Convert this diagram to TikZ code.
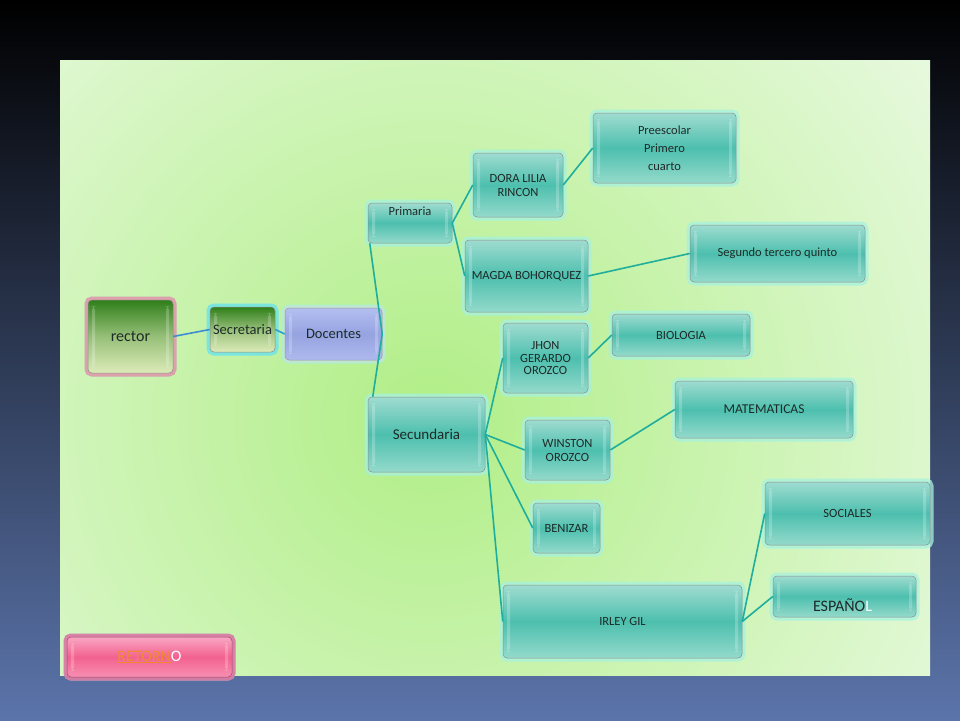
\documentclass[tikz,border=0pt]{standalone}
\usepackage{fontspec}
\setmainfont{Carlito}
\usepackage{tikz}
\definecolor{tealtop}{HTML}{9FDCD0}
\definecolor{tealmid}{HTML}{4DBFAE}
\definecolor{tealbot}{HTML}{94DACB}
\definecolor{tealglow}{HTML}{A6F2DF}
\definecolor{linkcol}{HTML}{1FAE9C}
\definecolor{slidein}{HTML}{B0EE86}
\definecolor{slideout}{HTML}{F0FBEC}
\definecolor{deepblue}{HTML}{5B74AA}
\definecolor{navy}{HTML}{0F1628}
\definecolor{labelcol}{HTML}{1E2A28}
\definecolor{greentop}{HTML}{2F7F1A}
\definecolor{greenbot}{HTML}{DCEBB8}
\definecolor{pinkglow}{HTML}{E88DA0}
\definecolor{cyanglow}{HTML}{6FE3E0}
\definecolor{lavtop}{HTML}{B4BFF0}
\definecolor{lavmid}{HTML}{95A3E0}
\definecolor{lavbot}{HTML}{AEB9EE}
\definecolor{rettop}{HTML}{F9A6C4}
\definecolor{retmid}{HTML}{F2628F}
\definecolor{retbot}{HTML}{F78FB2}
\definecolor{retglow}{HTML}{E2679A}
\definecolor{linkorange}{HTML}{F08A30}
\tikzset{
  sz/.style 2 args={minimum width=#1pt, minimum height=#2pt},
  bevel/.style={path picture={
    \fill[white,opacity=.22] ([shift={(4pt,-6pt)}]path picture bounding box.north west) rectangle ([shift={(7pt,6pt)}]path picture bounding box.south west);
    \fill[white,opacity=.22] ([shift={(-7pt,-6pt)}]path picture bounding box.north east) rectangle ([shift={(-4pt,6pt)}]path picture bounding box.south east);}},
  box/.style={rounded corners=4pt, draw=black!45, line width=0.5pt, top color=tealtop, bottom color=tealbot, middle color=tealmid,
    preaction={draw=tealglow, line width=7pt, opacity=0.75}, bevel, text=labelcol, align=center, inner sep=0pt,
    font=\fontsize{12.5}{14}\selectfont},
  greenbox/.style={box, top color=greentop, bottom color=greenbot, middle color=greenbot!60!greentop, font=\fontsize{14.5}{16}\selectfont},
  lbl/.style={text=labelcol, font=\fontsize{12.5}{14}\selectfont, inner sep=0pt},
  link/.style={draw=linkcol, line width=1.6pt}
}
\begin{document}
\begin{tikzpicture}[x=1pt,y=-1pt]
    \useasboundingbox (0,0) rectangle (960,720);
    \shade[top color=black, middle color=navy, bottom color=deepblue] (0,0) rectangle (960,720);
    \begin{scope}
      \clip (60,60) rectangle (930,675);
      \shade[inner color=slidein, outer color=slideout] (430,420) circle (720);
    \end{scope}

    \node[greenbox, sz={85}{73}, preaction={draw=pinkglow, line width=7pt, opacity=0.8}, font=\fontsize{16}{18}\selectfont] (rector) at (130.5,336.5) {rector};
    \node[greenbox, sz={65}{45}, preaction={draw=cyanglow, line width=7pt, opacity=0.8}] (secre) at (242.5,329.5) {Secretaria};
    \node[box, sz={97}{52}, top color=lavtop, bottom color=lavbot, middle color=lavmid, preaction={draw=black!15, line width=5pt, opacity=0.5}, draw=black!40, font=\fontsize{14.5}{16}\selectfont] (doc) at (333.5,334) {Docentes};

    \node[box, sz={84}{40}, label={[lbl, anchor=north, yshift=-4pt]north:Primaria}] (prim) at (410,223) {};
    \node[box, sz={90}{64}] (dora) at (518,185) {DORA LILIA\\RINCON};
    \node[box, sz={143}{70}, font=\fontsize{12.5}{18}\selectfont] (pre) at (664.5,148) {Preescolar\\Primero\\cuarto};
    \node[box, sz={123}{72}] (magda) at (526.5,276) {MAGDA BOHORQUEZ};
    \node[box, sz={175}{57}] (seg) at (777.5,253.5) {Segundo tercero quinto};

    \node[box, sz={117}{75}, font=\fontsize{15}{17}\selectfont] (secu) at (426.5,434.5) {Secundaria};
    \node[box, sz={85}{70}, font=\fontsize{12.5}{12.5}\selectfont] (jhon) at (545.5,358) {JHON\\GERARDO\\OROZCO};
    \node[box, sz={138}{42}] (bio) at (681,335) {BIOLOGIA};
    \node[box, sz={85}{60}] (win) at (567.5,450) {WINSTON\\OROZCO};
    \node[box, sz={178}{57}, font=\fontsize{13.5}{15}\selectfont] (mat) at (764,409.5) {MATEMATICAS};
    \node[box, sz={67}{50}] (ben) at (566.5,528) {BENIZAR};
    \node[box, sz={239}{73}] (irley) at (622.5,621.5) {IRLEY GIL};
    \node[box, sz={165}{63}] (soc) at (847.5,513.5) {SOCIALES};
    \node[box, sz={143}{41}, label={[lbl, font=\fontsize{16}{18}\selectfont, yshift=-9pt, xshift=-2pt]center:ESPAÑO\textcolor{white}{L}}] (esp) at (844.5,596.5) {};

    \node[box, sz={165}{40}, top color=rettop, bottom color=retbot, middle color=retmid, preaction={draw=retglow, line width=7pt, opacity=0.8}, draw=retglow!70!black, font=\fontsize{16}{18}\selectfont] (retorno) at (149.5,657) {\textcolor{linkorange}{\underline{RETORN}}\textcolor{white}{O}};

    \draw[link, draw=cyan!60!blue!80] (rector.east) -- (secre.west);
    \draw[link, draw=blue!30!cyan!60!gray] (secre.east) -- (doc.west);
    \draw[link] (doc.east) -- ([xshift=2pt]prim.south west);
    \draw[link] (doc.east) -- ([xshift=5pt]secu.north west);
    \foreach \A/\B in {prim/dora, prim/magda, dora/pre, magda/seg, secu/jhon, secu/win, secu/ben, secu/irley, jhon/bio, win/mat, irley/soc, irley/esp}
    {\draw[link] (\A.east) -- (\B.west);}
\end{tikzpicture}
\end{document}
